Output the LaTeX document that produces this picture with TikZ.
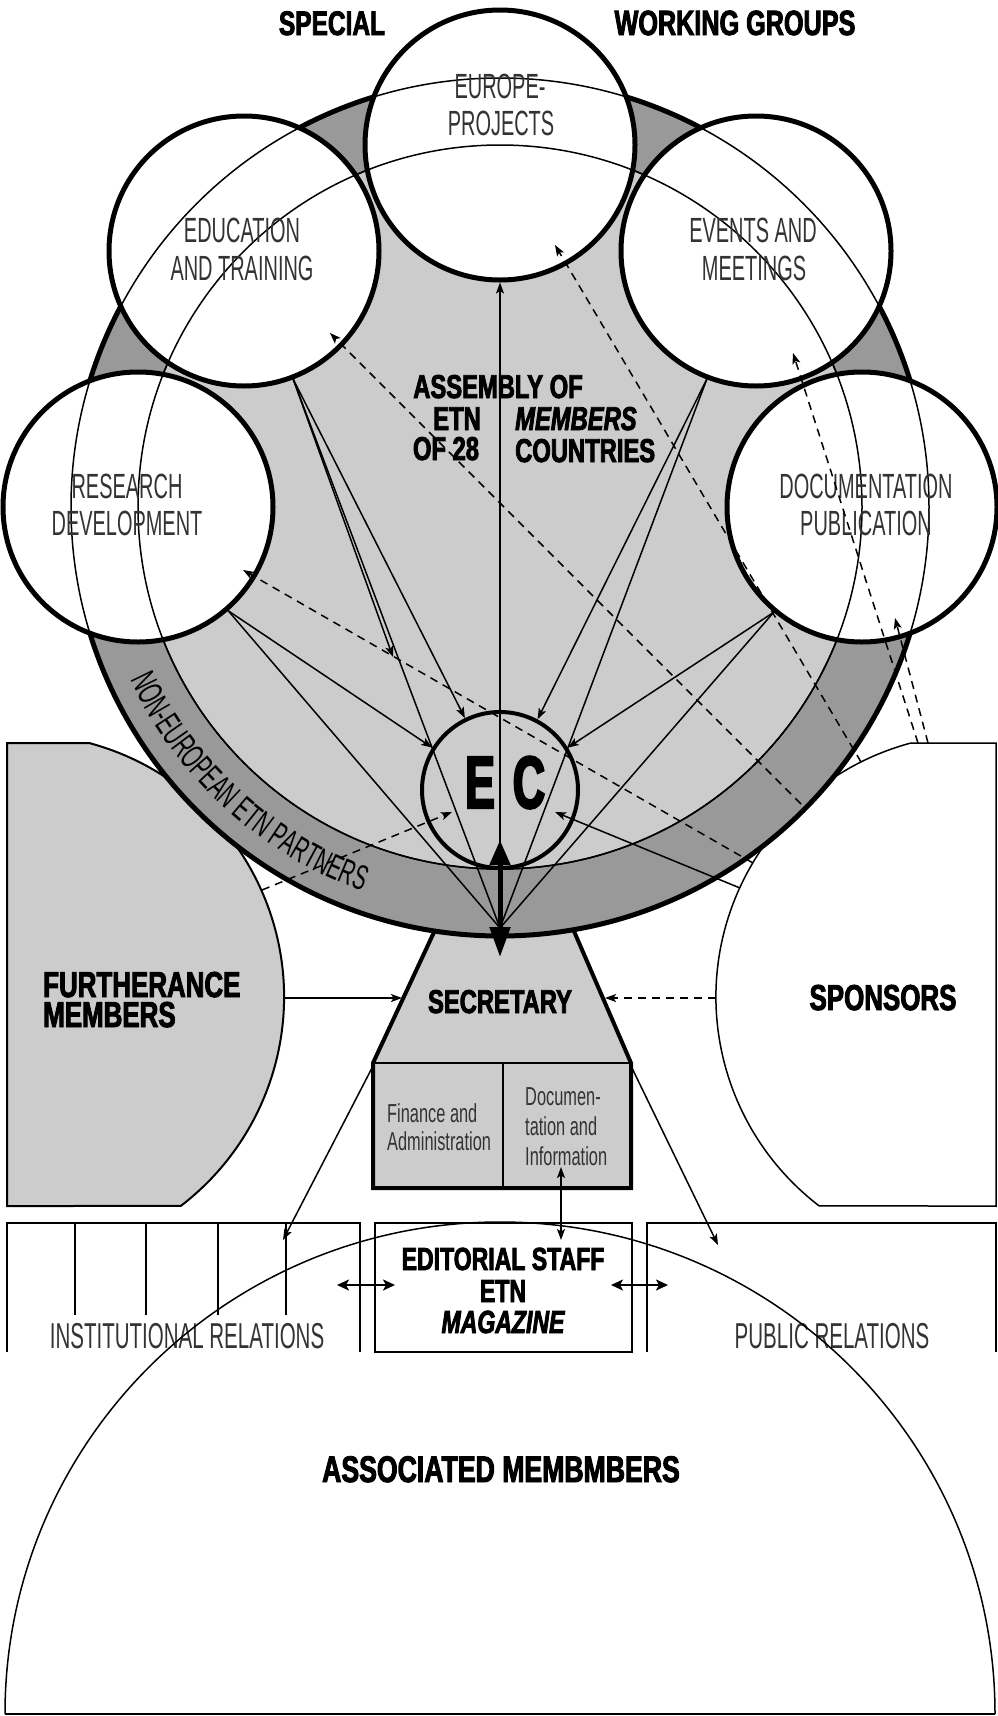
\documentclass[tikz,border=0pt]{standalone}
\usepackage{fontspec}
\setmainfont{Liberation Sans}
\newfontfamily\lightf[FakeStretch=0.57]{Liberation Sans}
\newfontfamily\smallf[FakeStretch=0.63]{Liberation Sans}
\newfontfamily\heavyf[FakeStretch=0.72,FakeBold=2.5]{Liberation Sans}
\newfontfamily\ecf[FakeStretch=0.6,FakeBold=3]{Liberation Sans}
\usetikzlibrary{arrows.meta,decorations.text}
\definecolor{lgray}{gray}{0.8}
\definecolor{dgray}{gray}{0.6}
\tikzset{
  lt/.style={font=\lightf\fontsize{35}{38}\selectfont, text=black!80, inner sep=0pt, anchor=base},
  hv/.style={font=\heavyf\bfseries\fontsize{33}{36}\selectfont, inner sep=0pt, anchor=base},
  hvbig/.style={font=\heavyf\bfseries\fontsize{36}{38}\selectfont, inner sep=0pt, anchor=base},
  sm/.style={font=\smallf\fontsize{26}{30}\selectfont, text=black!80, inner sep=0pt, anchor=base west},
  ecl/.style={font=\ecf\bfseries\fontsize{74}{74}\selectfont, inner sep=0pt, anchor=base},
  wcirc/.style={circle, draw, fill=white, line width=5pt, minimum size=270pt, inner sep=0pt},
  ln/.style={line width=1.5pt},
  tip/.style={-{Stealth[length=11pt,width=8pt,inset=2.5pt]}},
  arr/.style={ln, tip},
  darr/.style={ln, dash pattern=on 8pt off 6pt, tip},
  dbl/.style={line width=2.5pt, {Stealth[length=12pt,width=11pt,inset=3pt]}-{Stealth[length=12pt,width=11pt,inset=3pt]}},
}
\begin{document}
\begin{tikzpicture}[x=1pt,y=-1pt]
\useasboundingbox (0,0) rectangle (998,1716);

% furtherance and sponsors shapes
\draw[line width=2pt, fill=lgray] (7,743) -- (89.1,743) arc[start angle=-75,end angle=52.6,radius=263] -- (7,1206) -- cycle;
\draw[line width=1.5pt, fill=white] (996,743) -- (910.9,743) arc[start angle=255,end angle=127.4,radius=263] -- (996,1206) -- cycle;

% secretary trapezoid and box
\fill[lgray] (442,915) -- (567,915) -- (631,1063) -- (373,1063) -- cycle;
\fill[lgray] (373,1063) rectangle (631,1188);
\draw[line width=4pt] (442,915) -- (373,1063) -- (373,1188) -- (631,1188) -- (631,1063) -- (567,915);
\draw[line width=2pt] (373,1063) -- (631,1063);
\draw[line width=2pt] (503,1063) -- (503,1188);

% big circle
\draw[line width=5pt, fill=dgray] (500,507) circle[radius=429];
\draw[ln, fill=lgray] (500,507) circle[radius=362];

% working group circles
\node[wcirc] (res) at (138,507) {};
\node[wcirc] (edu) at (244,251) {};
\node[wcirc] (eur) at (500,145) {};
\node[wcirc] (evt) at (756,251) {};
\node[wcirc] (doc) at (862,507) {};

% ring outlines seen through circles
\draw[ln] (500,507) circle[radius=429];
\draw[ln] (500,507) circle[radius=362];

% EC
\node[circle, draw, line width=4pt, fill=lgray, minimum size=156pt, inner sep=0pt] (ec) at (500,790) {};
\node[ecl] (tE) at (480,808) {E};
\node[ecl] (tC) at (529,808) {C};

% ring text
\path[decorate, decoration={text along path, text={|\lightf\fontsize{35}{35}\selectfont|NON-EUROPEAN ETN PARTNERS}}] (130.2,679.4) arc[start angle=155,end angle=102,radius=408];

% titles
\node[hv, font=\heavyf\bfseries\fontsize{34}{36}\selectfont] (tspecial) at (332,35) {SPECIAL};
\node[hv, font=\heavyf\bfseries\fontsize{35}{36}\selectfont] (twg) at (735,35) {WORKING GROUPS};

% circle labels
\node[lt] (teur1) at (500,98) {EUROPE-};
\node[lt] (teur2) at (501,135) {PROJECTS};
\node[lt] (tedu1) at (242,242) {EDUCATION};
\node[lt] (tedu2) at (242,280) {AND TRAINING};
\node[lt] (tevt1) at (753,242) {EVENTS AND};
\node[lt] (tevt2) at (754,280) {MEETINGS};
\node[lt] (tres1) at (127,498) {RESEARCH};
\node[lt] (tres2) at (127,535) {DEVELOPMENT};
\node[lt] (tdoc1) at (866,498) {DOCUMENTATION};
\node[lt] (tdoc2) at (866,535) {PUBLICATION};

% assembly
\node[hv] (tas1) at (498,398) {ASSEMBLY OF};
\node[hv] (tas2) at (457,430) {ETN};
\node[hv, anchor=base west, font=\heavyf\bfseries\itshape\fontsize{33}{36}\selectfont] (tas3) at (515,430) {MEMBERS};
\node[hv] (tas4) at (446,460) {OF 28};
\node[hv, anchor=base west] (tas5) at (515,462) {COUNTRIES};

% side and secretary texts
\node[hvbig, anchor=base west] (tfu1) at (43,997) {FURTHERANCE};
\node[hvbig, anchor=base west] (tfu2) at (43,1027) {MEMBERS};
\node[hvbig] (tsp) at (883,1010) {SPONSORS};
\node[hv] (tsec) at (500,1013) {SECRETARY};
\node[sm] (tfin1) at (387,1122) {Finance and};
\node[sm] (tfin2) at (387,1150) {Administration};
\node[sm] (tdi1) at (525,1105) {Documen-};
\node[sm] (tdi2) at (525,1135) {tation and};
\node[sm] (tdi3) at (525,1165) {Information};

% bottom boxes
\draw[line width=2pt] (7,1352) -- (7,1223) -- (360,1223) -- (360,1352);
\foreach \xx in {75,146,218,286} \draw[line width=1.5pt] (\xx,1223) -- (\xx,1315);
\draw[line width=2pt] (375,1223) rectangle (632,1352);
\draw[line width=2pt] (647,1352) -- (647,1223) -- (996,1223) -- (996,1352);
\node[lt, font=\lightf\fontsize{36}{38}\selectfont] (tinst) at (187,1348) {INSTITUTIONAL RELATIONS};
\node[lt, font=\lightf\fontsize{36}{38}\selectfont] (tpub) at (832,1348) {PUBLIC RELATIONS};
\node[hv, font=\heavyf\bfseries\fontsize{32}{36}\selectfont] (ted1) at (503,1270) {EDITORIAL STAFF};
\node[hv, font=\heavyf\bfseries\fontsize{32}{36}\selectfont] (ted2) at (503,1302) {ETN};
\node[hv, font=\heavyf\bfseries\itshape\fontsize{32}{36}\selectfont] (ted3) at (503,1333) {MAGAZINE};

% associated members
\draw[line width=1.5pt] (5,1714) arc[start angle=180,end angle=360,x radius=495,y radius=492];
\draw[line width=2pt] (5,1714) -- (995,1714);
\node[hv, font=\heavyf\bfseries\fontsize{37}{38}\selectfont] (tass) at (501,1482) {ASSOCIATED MEMBMBERS};

% fan of connectors
\coordinate (apex) at (500,928);
\coordinate (mid) at (393,657);
\draw[ln] (res.-49) -- (apex);
\draw[arr] (res.-49) -- (ec.148);
\draw[ln] (edu.-69) -- (apex);
\draw[arr] (edu.-69) -- (ec.116);
\draw[arr] (edu.-69) -- (mid);
\draw[ln] (evt.-111) -- (apex);
\draw[arr] (evt.-111) -- (ec.62);
\draw[ln] (doc.-130) -- (apex);
\draw[arr] (doc.-130) -- (ec.32);
\draw[arr] (apex) -- (eur.south);

% sponsors / furtherance connectors
\coordinate (spA) at (740,888);
\coordinate (ecR) at (555,812);
\draw[arr] (spA) -- (ecR);
\coordinate (sp1) at (801,804);
\coordinate (eduIn) at (330,333);
\draw[darr] (sp1) -- (eduIn);
\coordinate (sp2) at (861,762);
\coordinate (eurIn) at (555,245);
\draw[darr] (sp2) -- (eurIn);
\coordinate (sp3) at (918,743);
\coordinate (evtIn) at (793,353);
\draw[darr] (sp3) -- (evtIn);
\coordinate (sp4) at (928,743);
\coordinate (docIn) at (895,618);
\draw[darr] (sp4) -- (docIn);
\coordinate (sp5) at (753,863);
\coordinate (resIn) at (243,570);
\draw[darr] (sp5) -- (resIn);
\coordinate (fu1) at (262,890);
\coordinate (ecL) at (452,812);
\draw[darr] (fu1) -- (ecL);

\coordinate (fuR) at (284,998);
\coordinate (secL) at (402,998);
\draw[arr] (fuR) -- (secL);
\coordinate (spL) at (716,998);
\coordinate (secR) at (605,998);
\draw[darr] (spL) -- (secR);

% secretary downwards
\coordinate (boxL) at (373,1066);
\coordinate (instT) at (283,1240);
\draw[arr] (boxL) -- (instT);
\coordinate (boxR) at (631,1066);
\coordinate (pubT) at (718,1245);
\draw[arr] (boxR) -- (pubT);
\coordinate (docB) at (561,1167);
\coordinate (edT) at (561,1240);
\draw[ln, {Stealth[length=11pt,width=8pt,inset=2.5pt]}-{Stealth[length=11pt,width=8pt,inset=2.5pt]}] (docB) -- (edT);
\coordinate (h1a) at (337,1285);
\coordinate (h1b) at (395,1285);
\draw[dbl] (h1a) -- (h1b);
\coordinate (h2a) at (611,1285);
\coordinate (h2b) at (668,1285);
\draw[dbl] (h2a) -- (h2b);

% thick double arrow EC - secretary
\coordinate (ecB) at (500,840);
\coordinate (secT) at (500,957);
\draw[line width=5pt, {Triangle[length=25pt,width=20pt]}-{Triangle[length=30pt,width=20pt]}] (ecB) -- (secT);
\end{tikzpicture}
\end{document}
